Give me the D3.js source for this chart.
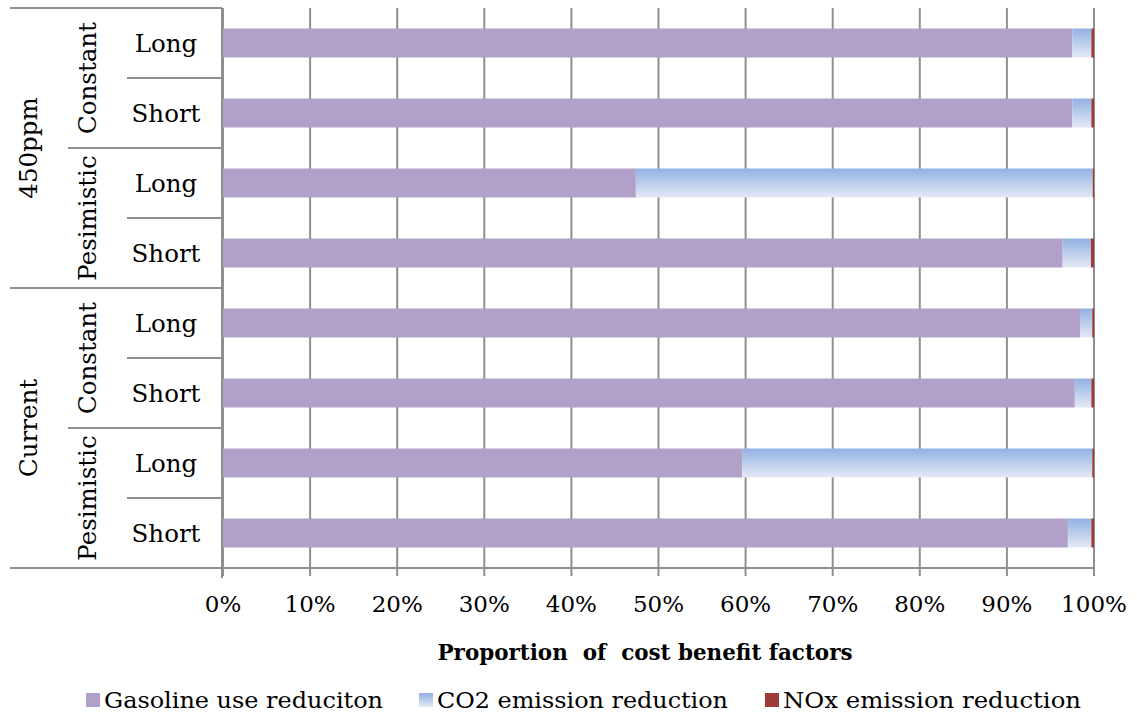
<!DOCTYPE html>
<html>
<head>
<meta charset="utf-8">
<script src="https://cdn.jsdelivr.net/npm/d3@7"></script>
<style>
  html, body { margin: 0; padding: 0; background: #ffffff; }
  svg { display: block; }
  text { font-family: "DejaVu Serif", "Liberation Serif", serif; fill: #000; white-space: pre; }
</style>
</head>
<body>
<svg id="chart" width="1137" height="715"></svg>
<script>
// Category hierarchy (top to bottom): scenario > outlook > horizon
const scenarios = ["450ppm", "Current"];
const outlooks = ["Constant", "Pesimistic"];
const horizons = ["Long", "Short"];

// Share of each cost benefit factor (%) for every row, top to bottom
const gasolineUse = [97.5, 97.5, 47.4, 96.4, 98.4, 97.8, 59.6, 97.0];
const co2Emission = [2.2, 2.2, 52.45, 3.25, 1.4, 1.9, 40.2, 2.7];
const noxEmission = [0.3, 0.3, 0.15, 0.35, 0.2, 0.3, 0.2, 0.3];

const seriesNames = ["Gasoline use reduciton", "CO2 emission reduction", "NOx emission reduction"];
const tickValues = [0, 10, 20, 30, 40, 50, 60, 70, 80, 90, 100];
const axisTitle = "Proportion  of  cost benefit factors";

// Build row records
const rows = [];
scenarios.forEach(s => outlooks.forEach(o => horizons.forEach(h => {
  rows.push({ scenario: s, outlook: o, horizon: h, key: s + "|" + o + "|" + h });
})));
rows.forEach((r, i) => {
  r.gas = gasolineUse[i];
  r.co2 = co2Emission[i];
  r.nox = noxEmission[i];
});

const svg = d3.select("#chart");
const gridColor = "#8f8f8f";

const plot = { left: 223, right: 1094, top: 8, bottom: 568 };
const x = d3.scaleLinear().domain([0, 100]).range([plot.left, plot.right]);
const y = d3.scaleBand().domain(rows.map(r => r.key))
  .range([plot.top, plot.bottom]).paddingInner(0.586).paddingOuter(0.293);
const step = y.step();

// Gradient fill for the CO2 series
const defs = svg.append("defs");
const grad = defs.append("linearGradient").attr("id", "co2grad")
  .attr("x1", 0).attr("y1", 0).attr("x2", 0).attr("y2", 1);
grad.append("stop").attr("offset", "0%").attr("stop-color", "#92b1e2");
grad.append("stop").attr("offset", "100%").attr("stop-color", "#e4e9f5");

const colors = ["#b1a1c8", "url(#co2grad)", "#9b3a37"];

// Vertical gridlines with tick marks below the axis
svg.append("g").selectAll("line").data(tickValues).join("line")
  .attr("x1", d => x(d)).attr("x2", d => x(d))
  .attr("y1", plot.top).attr("y2", plot.bottom + 8)
  .attr("stroke", gridColor).attr("stroke-width", 2);

// Stacked bars
const stack = d3.stack().keys(["gas", "co2", "nox"]);
const layers = stack(rows);
svg.append("g").selectAll("g").data(layers).join("g")
  .attr("fill", (d, i) => colors[i])
  .selectAll("rect").data(d => d).join("rect")
  .attr("x", d => x(d[0]))
  .attr("width", d => x(d[1]) - x(d[0]))
  .attr("y", d => y(d.data.key))
  .attr("height", y.bandwidth());

// Category axis lines
const axisG = svg.append("g").attr("stroke", gridColor).attr("stroke-width", 2);
axisG.append("line").attr("x1", plot.left - 1).attr("x2", plot.left - 1)
  .attr("y1", plot.top).attr("y2", plot.bottom + 10);
axisG.append("line").attr("x1", 10).attr("x2", plot.right)
  .attr("y1", plot.bottom).attr("y2", plot.bottom);

// Horizontal separators for the multi-level labels
const levelX = [10, 68, 127];
rows.forEach((r, i) => {
  const top = y(r.key) - y.paddingOuter() * step;
  let startX;
  if (i % 4 === 0) startX = levelX[0];
  else if (i % 2 === 0) startX = levelX[1];
  else startX = levelX[2];
  axisG.append("line").attr("x1", startX).attr("x2", plot.left - 1)
    .attr("y1", top).attr("y2", top);
});

// Horizon labels
svg.append("g").selectAll("text").data(rows).join("text")
  .attr("x", 166)
  .attr("y", d => y(d.key) + y.bandwidth() / 2)
  .attr("dy", "0.36em")
  .attr("text-anchor", "middle")
  .attr("font-size", 24.5)
  .text(d => d.horizon);

// Outlook labels (rotated)
const outlookGroups = [];
scenarios.forEach(s => outlooks.forEach(o => outlookGroups.push({ s, o })));
svg.append("g").selectAll("text").data(outlookGroups).join("text")
  .attr("transform", d => {
    const k1 = d.s + "|" + d.o + "|" + horizons[0];
    const k2 = d.s + "|" + d.o + "|" + horizons[1];
    const cy = (y(k1) + y(k2) + y.bandwidth()) / 2;
    return `translate(96,${cy}) rotate(-90)`;
  })
  .attr("text-anchor", "middle")
  .attr("font-size", 24.5)
  .text(d => d.o);

// Scenario labels (rotated)
svg.append("g").selectAll("text").data(scenarios).join("text")
  .attr("transform", s => {
    const k1 = s + "|" + outlooks[0] + "|" + horizons[0];
    const k2 = s + "|" + outlooks[1] + "|" + horizons[1];
    const cy = (y(k1) + y(k2) + y.bandwidth()) / 2;
    return `translate(37,${cy}) rotate(-90)`;
  })
  .attr("text-anchor", "middle")
  .attr("font-size", 24.5)
  .text(s => s);

// Value axis tick labels
svg.append("g").selectAll("text").data(tickValues).join("text")
  .attr("x", d => x(d))
  .attr("y", 612)
  .attr("text-anchor", "middle")
  .attr("font-size", 23)
  .text(d => d + "%");

// Axis title
svg.append("text")
  .attr("x", 645).attr("y", 660)
  .attr("text-anchor", "middle")
  .attr("font-size", 22)
  .attr("font-weight", "bold")
  .attr("textLength", 415)
  .attr("lengthAdjust", "spacingAndGlyphs")
  .text(axisTitle);

// Legend
const legendX = [86, 419, 765];
const legendW = [279, 291, 298];
const legend = svg.append("g").selectAll("g").data(seriesNames).join("g")
  .attr("transform", (d, i) => `translate(${legendX[i]},0)`);
legend.append("rect").attr("x", 0).attr("y", 693).attr("width", 14).attr("height", 14)
  .attr("fill", (d, i) => colors[i]);
legend.append("text").attr("x", 18).attr("y", 708)
  .attr("font-size", 22)
  .attr("textLength", (d, i) => legendW[i])
  .attr("lengthAdjust", "spacingAndGlyphs")
  .text(d => d);
</script>
</body>
</html>
